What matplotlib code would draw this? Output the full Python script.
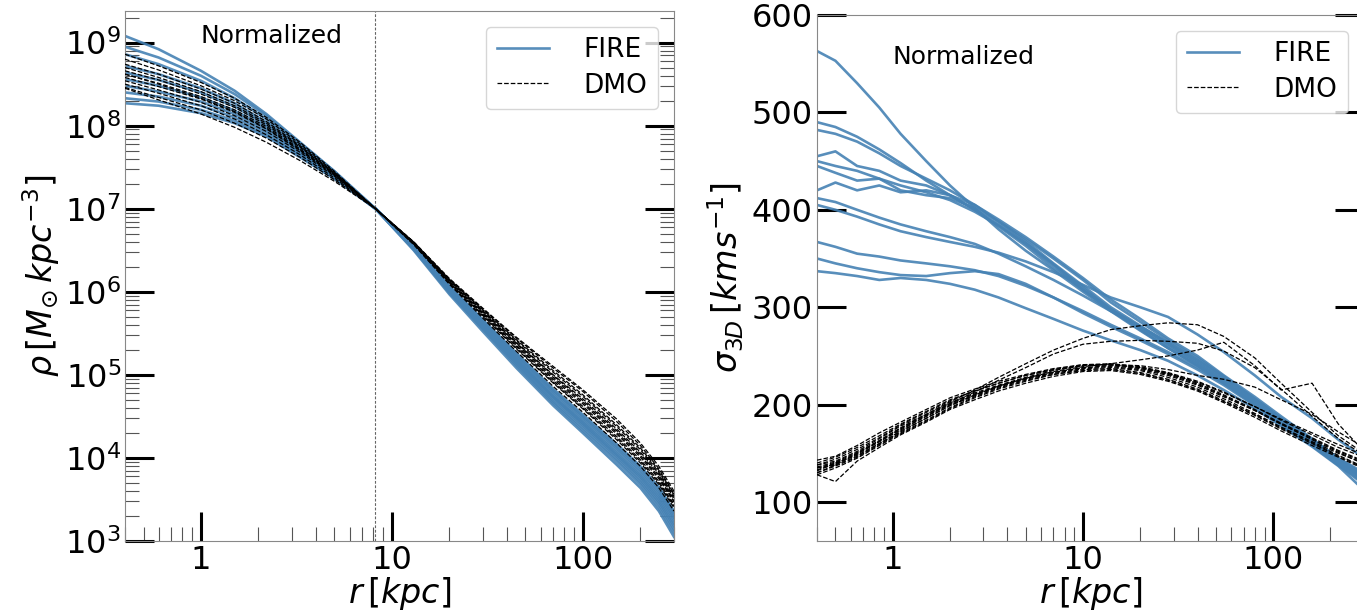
import numpy as np
import matplotlib
matplotlib.use("Agg")
import matplotlib.pyplot as plt
from matplotlib import ticker

# ---------------- data ----------------
# radii (kpc) at which density profiles are sampled
R_RHO = [0.4, 0.6, 1, 1.5, 2.2, 3.3, 5, 8.2, 13, 20, 30, 45, 70, 100, 150, 200, 250, 300]

# log10 density (Msun kpc^-3), normalized to 1e7 at r = 8.2 kpc
FIRE_LOGRHO = [
    [9.08, 8.92, 8.66, 8.42, 8.14, 7.80, 7.45, 7.0, 6.50, 5.97, 5.52, 5.08, 4.63, 4.30, 3.92, 3.64, 3.36, 3.05],
    [8.95, 8.82, 8.60, 8.38, 8.12, 7.79, 7.45, 7.0, 6.51, 5.99, 5.55, 5.11, 4.66, 4.33, 3.96, 3.68, 3.40, 3.10],
    [8.86, 8.74, 8.54, 8.33, 8.08, 7.76, 7.43, 7.0, 6.52, 6.00, 5.56, 5.13, 4.68, 4.36, 3.99, 3.71, 3.44, 3.14],
    [8.72, 8.62, 8.45, 8.27, 8.04, 7.74, 7.42, 7.0, 6.53, 6.02, 5.58, 5.15, 4.71, 4.39, 4.02, 3.74, 3.47, 3.18],
    [8.64, 8.55, 8.40, 8.23, 8.01, 7.72, 7.41, 7.0, 6.53, 6.02, 5.59, 5.17, 4.73, 4.41, 4.04, 3.77, 3.50, 3.21],
    [8.56, 8.48, 8.34, 8.18, 7.98, 7.70, 7.40, 7.0, 6.54, 6.03, 5.60, 5.18, 4.74, 4.43, 4.06, 3.79, 3.53, 3.25],
    [8.48, 8.41, 8.29, 8.14, 7.95, 7.68, 7.39, 7.0, 6.54, 6.04, 5.62, 5.20, 4.76, 4.45, 4.09, 3.82, 3.56, 3.28],
    [8.40, 8.35, 8.24, 8.10, 7.92, 7.66, 7.38, 7.0, 6.55, 6.05, 5.63, 5.22, 4.79, 4.48, 4.12, 3.85, 3.59, 3.31],
    [8.33, 8.29, 8.19, 8.06, 7.89, 7.64, 7.37, 7.0, 6.55, 6.06, 5.65, 5.24, 4.81, 4.50, 4.14, 3.88, 3.62, 3.34],
    [8.27, 8.24, 8.15, 8.03, 7.87, 7.62, 7.36, 7.0, 6.56, 6.07, 5.66, 5.26, 4.83, 4.52, 4.17, 3.90, 3.65, 3.36],
]
DMO_LOGRHO = [
    [8.86, 8.72, 8.52, 8.33, 8.10, 7.80, 7.45, 7.0, 6.57, 6.09, 5.68, 5.28, 4.86, 4.55, 4.18, 3.90, 3.64, 3.36],
    [8.80, 8.67, 8.48, 8.30, 8.08, 7.78, 7.44, 7.0, 6.58, 6.11, 5.71, 5.32, 4.91, 4.60, 4.24, 3.96, 3.70, 3.42],
    [8.74, 8.62, 8.44, 8.27, 8.05, 7.76, 7.43, 7.0, 6.58, 6.12, 5.73, 5.35, 4.95, 4.65, 4.29, 4.01, 3.75, 3.47],
    [8.70, 8.58, 8.41, 8.24, 8.03, 7.75, 7.42, 7.0, 6.59, 6.13, 5.75, 5.38, 4.99, 4.69, 4.33, 4.05, 3.79, 3.50],
    [8.66, 8.55, 8.38, 8.22, 8.01, 7.74, 7.42, 7.0, 6.59, 6.14, 5.77, 5.41, 5.03, 4.74, 4.38, 4.10, 3.83, 3.54],
    [8.62, 8.51, 8.35, 8.19, 7.99, 7.72, 7.41, 7.0, 6.60, 6.15, 5.79, 5.44, 5.08, 4.80, 4.44, 4.15, 3.87, 3.57],
    [8.58, 8.47, 8.32, 8.16, 7.96, 7.70, 7.40, 7.0, 6.58, 6.12, 5.74, 5.37, 4.97, 4.67, 4.31, 4.03, 3.77, 3.48],
    [8.54, 8.43, 8.28, 8.12, 7.93, 7.68, 7.39, 7.0, 6.57, 6.10, 5.70, 5.31, 4.90, 4.59, 4.22, 3.94, 3.68, 3.40],
    [8.50, 8.39, 8.24, 8.08, 7.89, 7.65, 7.37, 7.0, 6.59, 6.14, 5.76, 5.39, 5.00, 4.71, 4.35, 4.07, 3.81, 3.52],
    [8.46, 8.34, 8.19, 8.03, 7.85, 7.62, 7.35, 7.0, 6.60, 6.16, 5.80, 5.45, 5.10, 4.82, 4.47, 4.18, 3.90, 3.60],
    [8.45, 8.31, 8.14, 7.98, 7.80, 7.58, 7.33, 7.0, 6.60, 6.15, 5.78, 5.42, 5.05, 4.76, 4.40, 4.12, 3.85, 3.56],
    [8.62, 8.50, 8.33, 8.17, 7.97, 7.71, 7.41, 7.0, 6.58, 6.11, 5.72, 5.34, 4.93, 4.62, 4.26, 3.98, 3.72, 3.44],
]

# radii (kpc) at which velocity dispersion profiles are sampled
R_SIG = [0.4, 0.5, 0.65, 0.85, 1.1, 1.5, 2, 2.7, 3.6, 5, 7, 10, 14, 20, 28, 40, 55, 80, 110, 160, 220, 300]

# sigma_3D (km/s)
FIRE_SIG = [
    [563, 553, 530, 505, 478, 450, 425, 402, 380, 358, 338, 316, 296, 276, 258, 240, 222, 200, 182, 160, 142, 125],
    [490, 485, 475, 462, 448, 430, 415, 400, 383, 363, 340, 318, 298, 280, 262, 243, 225, 203, 183, 160, 140, 122],
    [482, 478, 470, 458, 445, 432, 420, 405, 388, 368, 345, 322, 300, 281, 263, 245, 227, 205, 185, 163, 143, 125],
    [455, 460, 445, 440, 430, 425, 415, 400, 385, 366, 344, 320, 298, 278, 260, 242, 224, 202, 182, 160, 141, 123],
    [450, 445, 440, 432, 425, 418, 410, 398, 384, 365, 343, 318, 297, 277, 258, 240, 222, 200, 180, 158, 138, 118],
    [445, 438, 430, 432, 420, 415, 412, 402, 388, 370, 350, 328, 305, 285, 266, 248, 229, 206, 186, 164, 144, 128],
    [420, 428, 420, 425, 418, 420, 415, 405, 390, 372, 352, 330, 308, 288, 268, 250, 230, 208, 188, 165, 145, 130],
    [412, 408, 400, 392, 385, 378, 372, 365, 355, 342, 328, 312, 296, 280, 264, 246, 228, 206, 186, 164, 145, 128],
    [405, 400, 393, 385, 378, 372, 367, 362, 356, 347, 336, 323, 310, 300, 290, 272, 254, 230, 208, 186, 164, 145],
    [367, 362, 355, 352, 348, 345, 342, 338, 332, 322, 310, 296, 282, 268, 254, 238, 222, 202, 184, 163, 144, 127],
    [350, 345, 340, 336, 333, 332, 335, 337, 334, 324, 310, 294, 280, 266, 252, 236, 220, 199, 180, 158, 138, 120],
    [337, 335, 332, 328, 330, 328, 324, 318, 310, 299, 288, 276, 266, 256, 245, 230, 215, 196, 178, 157, 137, 112],
]
DMO_SIG = [
    [138, 142, 152, 165, 178, 190, 202, 212, 220, 228, 235, 240, 241, 238, 232, 222, 210, 195, 181, 166, 153, 142],
    [132, 140, 148, 160, 172, 186, 199, 209, 218, 226, 232, 237, 238, 235, 228, 218, 206, 191, 177, 162, 150, 140],
    [128, 135, 145, 158, 170, 183, 196, 207, 216, 224, 231, 236, 237, 233, 226, 216, 204, 190, 176, 161, 148, 136],
    [140, 146, 156, 168, 180, 193, 205, 214, 222, 230, 236, 241, 242, 239, 233, 224, 213, 198, 184, 169, 156, 146],
    [128, 121, 142, 156, 169, 182, 195, 205, 214, 222, 229, 234, 235, 231, 224, 214, 202, 187, 173, 158, 146, 134],
    [135, 138, 150, 162, 174, 188, 200, 210, 219, 227, 233, 238, 239, 236, 230, 220, 208, 194, 180, 164, 151, 139],
    [143, 147, 158, 171, 182, 195, 207, 216, 224, 231, 237, 241, 241, 238, 232, 223, 212, 198, 185, 171, 159, 148],
    [130, 137, 146, 159, 171, 184, 197, 208, 217, 225, 231, 235, 236, 232, 225, 215, 203, 189, 175, 160, 147, 135],
    [136, 141, 151, 163, 176, 189, 201, 211, 219, 227, 233, 238, 240, 237, 231, 221, 209, 194, 180, 165, 152, 141],
    [135, 140, 150, 163, 176, 190, 203, 215, 228, 242, 256, 268, 277, 281, 284, 282, 270, 248, 222, 192, 168, 150],
    [133, 139, 149, 162, 175, 188, 201, 213, 225, 238, 252, 262, 265, 266, 265, 263, 255, 238, 216, 188, 165, 148],
    [130, 138, 147, 160, 173, 186, 199, 210, 219, 227, 234, 239, 242, 246, 250, 256, 264, 240, 215, 222, 180, 152],
    [138, 144, 154, 166, 179, 192, 204, 214, 222, 230, 236, 240, 241, 240, 236, 230, 226, 218, 205, 190, 172, 156],
]

R_SUN = 8.2
X_TICKS = [1, 10, 100]
X_TICK_LABELS = ["1", "10", "100"]
SIG_TICKS = [100, 200, 300, 400, 500, 600]

# ---------------- style ----------------
FIRE_COLOR = "steelblue"
W, H = 1357, 614
fig = plt.figure(figsize=(W / 100, H / 100), dpi=100)
axL = fig.add_axes([125 / W, 73 / H, 549 / W, 530 / H])
axR = fig.add_axes([817 / W, 73 / H, 547 / W, 526 / H])


def style(ax):
    ax.set_xscale("log")
    ax.set_xlim(0.4, 300)
    ax.xaxis.set_major_locator(ticker.FixedLocator(X_TICKS))
    ax.xaxis.set_major_formatter(ticker.FixedFormatter(X_TICK_LABELS))
    ax.xaxis.set_minor_locator(ticker.LogLocator(base=10, subs=np.arange(2, 10), numticks=100))
    ax.xaxis.set_minor_formatter(ticker.NullFormatter())
    ax.tick_params(which="major", direction="in", length=21, width=2.2, color="black",
                   labelsize=23, left=True, right=True, top=False, bottom=True, pad=3)
    ax.tick_params(which="minor", direction="in", length=10, width=0.8, color="#555555",
                   left=True, right=True, top=False, bottom=True,
                   labelbottom=False, labelleft=False, labelright=False, labeltop=False)
    for s in ax.spines.values():
        s.set_color("#888888")
        s.set_linewidth(0.8)
    ax.set_xlabel(r"$r\,[kpc]$", fontsize=24, labelpad=-1)


# ---- left: density ----
style(axL)
axL.set_yscale("log")
axL.set_ylim(1e3, 2.4e9)
axL.yaxis.set_major_locator(ticker.LogLocator(base=10, numticks=100))
axL.yaxis.set_minor_locator(ticker.LogLocator(base=10, subs=np.arange(2, 10), numticks=100))
axL.yaxis.set_minor_formatter(ticker.NullFormatter())
axL.tick_params(which="minor", labelleft=False, labelbottom=False)
for i, row in enumerate(FIRE_LOGRHO):
    axL.plot(R_RHO, 10 ** np.array(row), color=FIRE_COLOR, lw=1.9, alpha=0.9,
             label="FIRE" if i == 0 else None, zorder=2)
for i, row in enumerate(DMO_LOGRHO):
    axL.plot(R_RHO, 10 ** np.array(row), color="black", ls="--", lw=0.9,
             label="DMO" if i == 0 else None, zorder=3)
axL.axvline(R_SUN, color="#666666", ls="--", lw=0.8, dashes=(2.5, 1.5))
axL.text(1, 1.0e9, "Normalized", fontsize=18, ha="left", va="baseline")
axL.set_ylabel(r"$\rho\,[M_{\odot}\,kpc^{-3}]$", fontsize=24, labelpad=2)
axL.legend(loc="upper right", fontsize=19, handlelength=2.0, handletextpad=1.3,
           labelspacing=0.35, borderaxespad=0.6)

# ---- right: velocity dispersion ----
style(axR)
axR.set_ylim(60, 600)
axR.yaxis.set_major_locator(ticker.FixedLocator(SIG_TICKS))
axR.yaxis.set_minor_locator(ticker.NullLocator())
for i, row in enumerate(FIRE_SIG):
    axR.plot(R_SIG, row, color=FIRE_COLOR, lw=1.9, alpha=0.9,
             label="FIRE" if i == 0 else None, zorder=2)
for i, row in enumerate(DMO_SIG):
    axR.plot(R_SIG, row, color="black", ls="--", lw=0.9, label="DMO" if i == 0 else None, zorder=3)
axR.text(1, 550, "Normalized", fontsize=18, ha="left", va="baseline")
axR.set_ylabel(r"$\sigma_{3D}\,[kms^{-1}]$", fontsize=24, labelpad=4)
axR.legend(loc="upper right", fontsize=19, handlelength=2.0, handletextpad=1.3,
           labelspacing=0.35, borderaxespad=0.6)

fig.savefig("out.png", dpi=100)
